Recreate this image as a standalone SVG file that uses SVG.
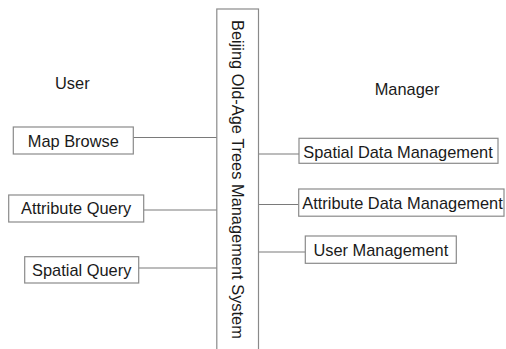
<svg xmlns="http://www.w3.org/2000/svg" width="506" height="349" viewBox="0 0 506 349">
<style>
  .box { fill: #ffffff; stroke: #8a8a8a; stroke-width: 1.2; }
  .lbl { font-family: "Liberation Sans", Arial, sans-serif; font-size: 16.4px; fill: #1a1a1a; }
  .ctr { text-anchor: middle; }
  .conn line { stroke: #7a7a7a; stroke-width: 1.2; }
</style>
<rect width="506" height="349" fill="#ffffff"/>
<g id="connectors" class="conn">
  <line x1="133" y1="137.5" x2="217" y2="137.5"/>
  <line x1="143.5" y1="210" x2="217" y2="210"/>
  <line x1="138.5" y1="268" x2="217" y2="268"/>
  <line x1="258.5" y1="154" x2="299" y2="154"/>
  <line x1="258.5" y1="204.5" x2="298.5" y2="204.5"/>
  <line x1="258.5" y1="252" x2="305.5" y2="252"/>
</g>
<g id="system">
  <rect class="box" x="216.8" y="9" width="41.7" height="360"/>
  <text class="lbl" transform="translate(231.5,20) rotate(90)" x="0" y="0">Beijing Old-Age Trees Management System</text>
</g>
<g id="user-label">
  <text class="lbl" x="55" y="89">User</text>
</g>
<g id="manager-label">
  <text class="lbl" x="374.7" y="95">Manager</text>
</g>
<g id="map-browse">
  <rect class="box" x="13.3" y="127" width="120" height="27"/>
  <text class="lbl ctr" x="73.3" y="146.5">Map Browse</text>
</g>
<g id="attribute-query">
  <rect class="box" x="8.7" y="195" width="135" height="27"/>
  <text class="lbl ctr" x="76.2" y="214.3">Attribute Query</text>
</g>
<g id="spatial-query">
  <rect class="box" x="24.7" y="256.7" width="114" height="26.3"/>
  <text class="lbl ctr" x="81.7" y="276">Spatial Query</text>
</g>
<g id="spatial-data-management">
  <rect class="box" x="299" y="138.3" width="199" height="25"/>
  <text class="lbl ctr" x="398" y="158.3">Spatial Data Management</text>
</g>
<g id="attribute-data-management">
  <rect class="box" x="298.7" y="189" width="205.3" height="27.2"/>
  <text class="lbl ctr" x="402.5" y="208.6">Attribute Data Management</text>
</g>
<g id="user-management">
  <rect class="box" x="305.3" y="236" width="151" height="27.3"/>
  <text class="lbl ctr" x="380.8" y="256">User Management</text>
</g>
</svg>
